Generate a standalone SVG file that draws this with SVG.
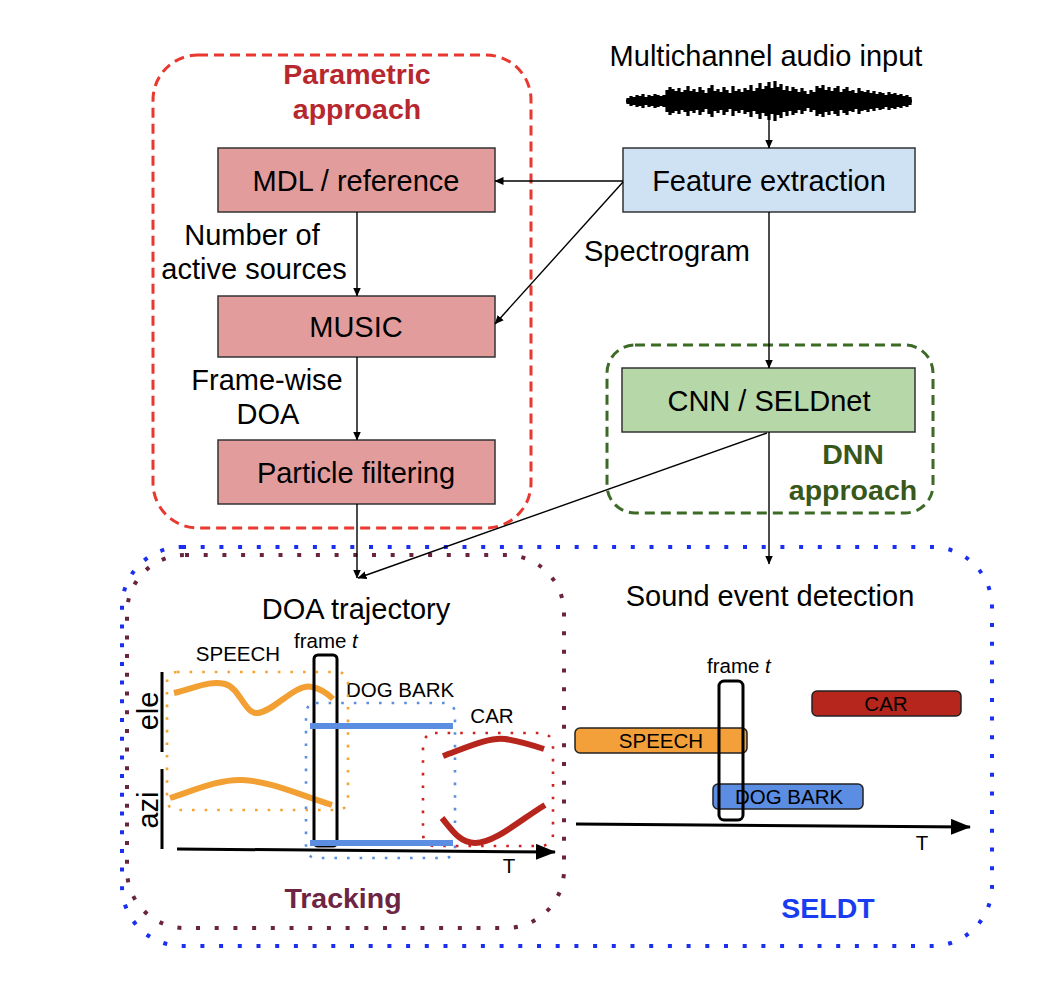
<svg xmlns="http://www.w3.org/2000/svg" width="1050" height="984" viewBox="0 0 1050 984">
<style>
.t{font-family:"Liberation Sans",Arial,sans-serif;font-size:29px;fill:#000}
.s{font-family:"Liberation Sans",Arial,sans-serif;font-size:20.5px;fill:#000}
.b{font-family:"Liberation Sans",Arial,sans-serif;font-size:28.5px;font-weight:bold}
.box{stroke:#333;stroke-width:1.5}
.red{fill:#e29c9b}
.blue{fill:#cfe2f3}
.green{fill:#b6d7a8}
.conn{stroke:#000;stroke-width:1.4;fill:none}
.dotb{fill:none;stroke:#1a2ff0;stroke-width:4;stroke-dasharray:4 14.7}
.dotm{fill:none;stroke:#6b2342;stroke-width:4;stroke-dasharray:4 14.7}
.dsm{fill:none;stroke-width:2.6;stroke-dasharray:2.6 10}
.thick{fill:none;stroke-width:6;stroke-linecap:butt}
.frame{fill:none;stroke:#000;stroke-width:3}
.bar{stroke:#222;stroke-width:1.5}
</style>
<defs>
<marker id="ah" markerWidth="9" markerHeight="8" refX="8.5" refY="4" orient="auto" markerUnits="userSpaceOnUse"><path d="M0,0 L9,4 L0,8 z" fill="#000"/></marker>
<marker id="big" markerWidth="20" markerHeight="16" refX="19" refY="8" orient="auto" markerUnits="userSpaceOnUse"><path d="M0,0 L20,8 L0,16 z" fill="#000"/></marker>
</defs>
<rect width="1050" height="984" fill="#fff"/>

<!-- containers -->
<g id="seldt-group">
<rect class="dotb" x="122" y="547" width="870" height="399" rx="60"/>
<text class="b" x="828" y="918" text-anchor="middle" fill="#1a3cf0">SELDT</text>
</g>
<g id="tracking-group">
<rect class="dotm" x="127" y="555" width="437" height="373" rx="58"/>
<text class="b" x="343" y="908" text-anchor="middle" fill="#6e2443">Tracking</text>
</g>
<g id="parametric-group">
<rect x="153" y="55" width="378" height="473" rx="45" fill="none" stroke="#e8382f" stroke-width="3" stroke-dasharray="10 6"/>
<text class="b" x="357" y="84" text-anchor="middle" fill="#b7282e">Parametric</text>
<text class="b" x="357" y="119" text-anchor="middle" fill="#b7282e">approach</text>
</g>
<g id="dnn-group">
<rect x="607" y="345" width="326" height="168" rx="28" fill="none" stroke="#3d6b27" stroke-width="3" stroke-dasharray="10 6"/>
<text class="b" x="853" y="464" text-anchor="middle" fill="#38571a">DNN</text>
<text class="b" x="853" y="500" text-anchor="middle" fill="#38571a">approach</text>
</g>

<!-- input -->
<g id="audio-input">
<text class="t" x="766" y="66" text-anchor="middle">Multichannel audio input</text>
<path fill="none" stroke="#000" stroke-width="3.2" d="M626 101H912 M628 98V104 M631 96V106 M634 97V105 M637 95V107 M640 96V106 M643 94V108 M646 97V105 M649 95V107 M652 96V106 M655 94V108 M658 95V107 M661 96V106 M664 95V107 M667 90V112 M670 87V115 M673 89V113 M676 91V111 M679 88V114 M682 92V110 M685 90V112 M688 86V116 M691 91V111 M694 89V113 M697 92V110 M700 87V115 M703 90V112 M706 93V109 M709 88V114 M712 85V117 M715 91V111 M718 89V113 M721 92V110 M724 87V115 M727 90V112 M730 93V109 M733 86V116 M736 91V111 M739 89V113 M742 92V110 M745 88V114 M748 90V112 M751 85V117 M754 91V111 M757 88V114 M760 83V119 M763 89V113 M766 86V116 M769 82V120 M772 88V114 M775 81V121 M778 87V115 M781 84V118 M784 90V112 M787 86V116 M790 91V111 M793 87V115 M796 89V113 M799 92V110 M802 88V114 M805 91V111 M808 94V108 M811 90V112 M814 92V110 M817 86V116 M820 88V114 M823 85V117 M826 90V112 M829 87V115 M832 91V111 M835 88V114 M838 86V116 M841 92V110 M844 89V113 M847 87V115 M850 91V111 M853 90V112 M856 93V109 M859 88V114 M862 91V111 M865 92V110 M868 90V112 M871 93V109 M874 91V111 M877 94V108 M880 92V110 M883 93V109 M886 95V107 M889 92V110 M892 94V108 M895 93V109 M898 95V107 M901 94V108 M904 96V106 M907 95V107 M910 97V105"/>
</g>

<!-- nodes -->
<g id="feature-extraction">
<rect class="box blue" x="623" y="148" width="292" height="64"/>
<text class="t" x="769" y="191" text-anchor="middle">Feature extraction</text>
</g>
<g id="mdl">
<rect class="box red" x="218" y="148" width="277" height="64"/>
<text class="t" x="356" y="191" text-anchor="middle">MDL / reference</text>
</g>
<g id="music">
<rect class="box red" x="218" y="296" width="277" height="61"/>
<text class="t" x="356" y="337" text-anchor="middle">MUSIC</text>
</g>
<g id="particle">
<rect class="box red" x="218" y="440" width="277" height="64"/>
<text class="t" x="356" y="483" text-anchor="middle">Particle filtering</text>
</g>
<g id="cnn">
<rect class="box green" x="622" y="368" width="293" height="64"/>
<text class="t" x="769" y="411" text-anchor="middle">CNN / SELDnet</text>
</g>

<!-- connectors -->
<g id="connectors">
<line class="conn" x1="769" y1="120" x2="769" y2="148" marker-end="url(#ah)"/>
<line class="conn" x1="623" y1="181" x2="495" y2="181" marker-end="url(#ah)"/>
<line class="conn" x1="623" y1="182" x2="495" y2="324" marker-end="url(#ah)"/>
<line class="conn" x1="769" y1="212" x2="769" y2="368" marker-end="url(#ah)"/>
<line class="conn" x1="357" y1="212" x2="357" y2="296" marker-end="url(#ah)"/>
<line class="conn" x1="357" y1="357" x2="357" y2="440" marker-end="url(#ah)"/>
<line class="conn" x1="357" y1="504" x2="357" y2="578" marker-end="url(#ah)"/>
<line class="conn" x1="767" y1="433" x2="358" y2="578" marker-end="url(#ah)"/>
<line class="conn" x1="769" y1="432" x2="769" y2="564" marker-end="url(#ah)"/>
</g>
<g id="connector-labels">
<text class="t" x="252" y="245" text-anchor="middle">Number of</text>
<text class="t" x="254" y="279" text-anchor="middle">active sources</text>
<text class="t" x="267" y="390" text-anchor="middle">Frame-wise</text>
<text class="t" x="268" y="424" text-anchor="middle">DOA</text>
<text class="t" x="667" y="261" text-anchor="middle">Spectrogram</text>
</g>

<!-- DOA trajectory plot -->
<g id="doa-plot">
<text class="t" x="356" y="619" text-anchor="middle">DOA trajectory</text>
<text class="s" x="294" y="648">frame <tspan font-style="italic">t</tspan></text>
<text class="s" x="238" y="661" text-anchor="middle">SPEECH</text>
<text class="s" x="400" y="697" text-anchor="middle">DOG BARK</text>
<text class="s" x="492" y="723" text-anchor="middle">CAR</text>
<text class="t" transform="translate(158,711) rotate(-90)" text-anchor="middle">ele</text>
<text class="t" transform="translate(158,810) rotate(-90)" text-anchor="middle">azi</text>
<line x1="162" y1="672" x2="162" y2="752" stroke="#000" stroke-width="3"/>
<line x1="162" y1="769" x2="162" y2="849" stroke="#000" stroke-width="3"/>
<rect class="dsm" x="167" y="672" width="181" height="138" rx="10" stroke="#f6a331"/>
<rect class="dsm" x="306" y="703" width="149" height="155" rx="10" stroke="#5b8de0"/>
<rect class="dsm" x="423" y="733" width="130" height="113" rx="12" stroke="#cc2222"/>
<line x1="177" y1="849" x2="555" y2="852" stroke="#000" stroke-width="3" marker-end="url(#big)"/>
<text class="s" x="509" y="873" text-anchor="middle">T</text>
<path class="thick" stroke="#f2a033" d="M174,693 C195,688 210,680 225,684 C240,688 245,715 258,713 C275,711 295,683 312,687 C322,689 328,694 333,699"/>
<path class="thick" stroke="#f2a033" d="M170,798 C195,790 220,779 242,780 C270,781 300,795 332,805"/>
<path class="thick" stroke="#b7261d" d="M443,756 C470,746 490,737 505,739 C520,741 532,745 544,749"/>
<path class="thick" stroke="#b7261d" d="M442,818 C452,830 460,843 475,843 C495,843 520,820 545,805"/>
<rect class="frame" x="314" y="655" width="23" height="191" rx="4"/>
<line class="thick" stroke="#5b8de0" x1="310" y1="726" x2="453" y2="726"/>
<line class="thick" stroke="#5b8de0" x1="310" y1="843" x2="453" y2="843"/>
</g>

<!-- Sound event detection plot -->
<g id="sed-plot">
<text class="t" x="770" y="606" text-anchor="middle">Sound event detection</text>
<text class="s" x="707" y="673">frame <tspan font-style="italic">t</tspan></text>
<rect class="bar" x="812" y="691" width="149" height="25" rx="5" fill="#b7261d"/>
<text class="s" x="886" y="711" text-anchor="middle">CAR</text>
<rect class="bar" x="575" y="728" width="172" height="25" rx="5" fill="#f4a03a"/>
<text class="s" x="661" y="748" text-anchor="middle">SPEECH</text>
<rect class="bar" x="713" y="784" width="150" height="25" rx="5" fill="#5b8de2"/>
<text class="s" x="789" y="804" text-anchor="middle">DOG BARK</text>
<rect class="frame" x="719" y="681" width="24" height="139" rx="5"/>
<line x1="576" y1="824" x2="970" y2="827" stroke="#000" stroke-width="3" marker-end="url(#big)"/>
<text class="s" x="922" y="850" text-anchor="middle">T</text>
</g>
</svg>
